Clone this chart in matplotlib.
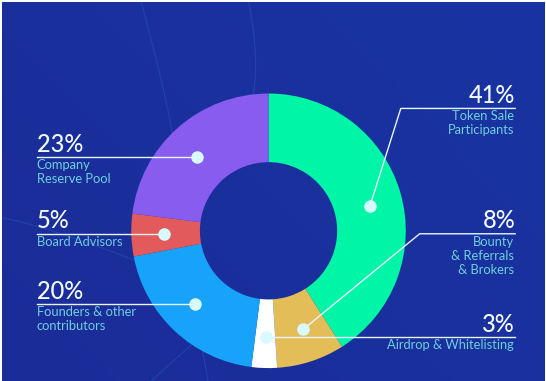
import numpy as np
import matplotlib
matplotlib.use("Agg")
import matplotlib.pyplot as plt

# ---- data ----
categories = ["Token Sale\nParticipants", "Bounty\n& Referrals\n& Brokers", "Airdrop & Whitelisting",
              "Founders & other\ncontributors", "Board Advisors", "Company\nReserve Pool"]
values = [41, 8, 3, 20, 5, 23]
pct_labels = ["41%", "8%", "3%", "20%", "5%", "23%"]
colors = ["#00F5A6", "#E3BE58", "#FFFFFF", "#16A3F9", "#E35A5C", "#875CEF"]

W, H = 546, 381
fig = plt.figure(figsize=(W / 100, H / 100), dpi=100, facecolor="white")
ax = fig.add_axes([2 / W, 0, (W - 3) / W, (H - 2) / H])
ax.set_xlim(0, W)
ax.set_ylim(H, 0)
ax.axis("off")

# background gradient
gx = np.linspace(0, 1, 200)
gy = np.linspace(0, 1, 200)
GX, GY = np.meshgrid(gx, gy)
c1 = np.array([27, 44, 152]) / 255
c2 = np.array([24, 52, 162]) / 255
t = (0.6 * GX + 0.4 * (1 - GY))[..., None]
img = c1 * (1 - t) + c2 * t
ax.imshow(img, extent=[0, W, H, 0], aspect="auto", zorder=0)

# faint decorative curves
deco = "#2F6BC8"
yy = np.linspace(0, 381, 100)
ax.plot(140 + 25 * (yy / 130) + 6 * np.sin(yy / 80), yy, color=deco, lw=0.8, alpha=0.35, zorder=1)
yy2 = np.linspace(0, 110, 60)
ax.plot(248 + 7 * np.sin(yy2 / 110 * np.pi * 0.9), yy2, color=deco, lw=0.8, alpha=0.35, zorder=1)
xx = np.linspace(0, 140, 60)
ax.plot(xx, 217 + 45 * (xx / 140) ** 1.2, color=deco, lw=0.8, alpha=0.35, zorder=1)
xx2 = np.linspace(150, 200, 40)
ax.plot(xx2, 381 - (xx2 - 150) * 0.9, color=deco, lw=0.8, alpha=0.35, zorder=1)

# donut (y axis inverted -> counterclock=True draws clockwise on screen)
cx, cy, R, w = 268, 230, 138, 69
ax.pie(values, colors=colors, startangle=-90, counterclock=True,
       center=(cx, cy), radius=R, wedgeprops=dict(width=w, linewidth=0),
       frame=True)
ax.set_xlim(0, W)
ax.set_ylim(H, 0)
ax.set_aspect("auto")
ax.axis("off")

font = ["Lato", "DejaVu Sans"]
pct_col = "#F2FBFF"
lab_col = "#6FD0DE"
line_col = "#E8F6FF"
dot_col = "#D8FAFF"

def dot(x, y):
    ax.plot([x], [y], "o", ms=8, color=dot_col, zorder=5)

# left labels: (pct idx, dot x, line y)
left = [(5, 196, 156), (4, 163, 233), (3, 194, 304)]
for i, dx, ly in left:
    ax.plot([35, dx], [ly, ly], color=line_col, lw=1.0, zorder=4)
    dot(dx, ly)
    ax.text(35, ly - 1.5, pct_labels[i], color=pct_col, fontsize=17, family=font,
            ha="left", va="bottom", fontweight="medium")
    ax.text(35, ly + 2, categories[i], color=lab_col, fontsize=9.3, family=font,
            ha="left", va="top", linespacing=1.2)

# right labels: (idx, line y, elbow x, dot x, dot y)
right = [(0, 107, 401, 370, 205), (1, 233, 420, 303, 329), (2, 337, None, 265, 337)]
for i, ly, ex, dx, dy in right:
    if ex is None:
        ax.plot([dx, 516], [ly, ly], color=line_col, lw=1.0, zorder=4)
    else:
        ax.plot([dx, ex, 516], [dy, ly, ly], color=line_col, lw=1.0, zorder=4)
    dot(dx, dy)
    ax.text(516, ly - 1.5, pct_labels[i], color=pct_col, fontsize=17, family=font,
            ha="right", va="bottom", fontweight="medium")
    ax.text(515, ly + 2, categories[i], color=lab_col, fontsize=9.3, family=font,
            ha="right", va="top", linespacing=1.2, multialignment="right")

fig.savefig("out.png", dpi=100, facecolor="white")
